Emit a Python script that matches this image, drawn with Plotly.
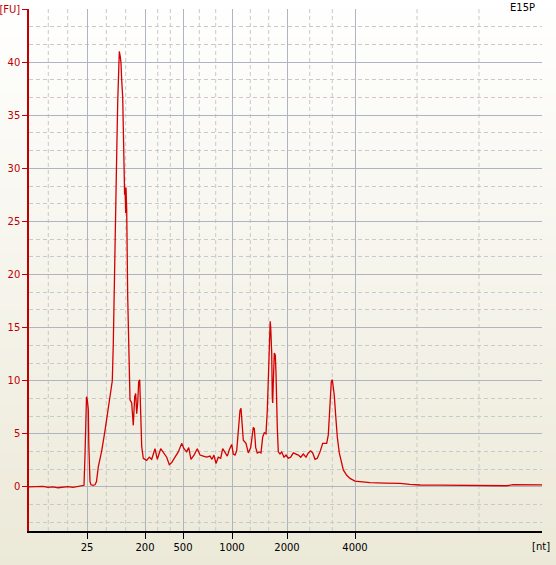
import plotly.graph_objects as go

# Migration time (s) and fluorescence (FU)
time_s = [19.00, 19.40, 19.90, 20.40, 20.90, 21.40, 21.90, 22.40, 22.90, 23.40, 23.90, 24.30, 24.50,
          24.60, 24.68, 24.75, 24.83, 24.93, 24.98, 25.03, 25.10, 25.20, 25.40, 25.60, 25.75, 25.93,
          26.27, 26.60, 26.83, 27.10, 27.33, 27.43, 27.53, 27.67, 27.77, 27.87, 27.97, 28.03, 28.13,
          28.20, 28.27, 28.37, 28.43, 28.50, 28.56, 28.60, 28.67, 28.70, 28.77, 28.87, 29.00, 29.10,
          29.27, 29.37, 29.43, 29.57, 29.67, 29.77, 29.87, 29.97, 30.07, 30.17, 30.27, 30.43, 30.77,
          31.03, 31.27, 31.60, 31.83, 32.17, 32.50, 32.77, 33.03, 33.27, 33.60, 33.93, 34.27, 34.50,
          34.77, 34.97, 35.20, 35.50, 35.83, 36.10, 36.43, 36.77, 37.10, 37.30, 37.50, 37.70, 37.93,
          38.17, 38.37, 38.63, 38.83, 39.03, 39.27, 39.43, 39.60, 39.77, 39.93, 40.10, 40.20, 40.33,
          40.43, 40.70, 40.93, 41.17, 41.33, 41.43, 41.53, 41.67, 41.83, 42.03, 42.20, 42.37, 42.53,
          42.70, 42.83, 42.97, 43.07, 43.12, 43.17, 43.27, 43.33, 43.37, 43.43, 43.53, 43.63, 43.70,
          43.83, 43.93, 44.10, 44.27, 44.50, 44.70, 44.93, 45.17, 45.43, 45.70, 45.93, 46.17, 46.43,
          46.70, 46.93, 47.17, 47.37, 47.60, 47.83, 48.10, 48.37, 48.60, 48.77, 48.93, 49.10, 49.23,
          49.33, 49.43, 49.53, 49.67, 49.83, 50.03, 50.27, 50.43, 50.77, 51.10, 51.60, 52.30, 53.10,
          54.60, 56.10, 57.10, 58.10, 60.10, 63.40, 65.10, 66.80, 67.40, 68.60, 70.10, 70.30]
fu = [0.00, 0.02, 0.00, 0.05, -0.05, 0.00, -0.08, 0.00, 0.03, -0.05, 0.05, 0.10, 0.15,
      3.0, 7.5, 8.5, 8.2, 7.3, 4.0, 1.5, 0.5, 0.2, 0.15, 0.2, 0.5, 1.9,
      3.4, 5.3, 6.9, 8.6, 10.0, 13.5, 17.9, 25.7, 31.3, 36.2, 39.9, 41.0, 40.5,
      39.9, 38.3, 36.7, 33.9, 28.3, 27.5, 28.2, 25.8, 28.2, 26.1, 17.9, 10.0, 8.2,
      7.9, 6.0, 5.8, 8.5, 8.8, 6.9, 7.9, 9.9, 10.1, 6.9, 3.8, 2.7, 2.5,
      2.8, 2.6, 3.6, 2.6, 3.6, 3.2, 2.8, 2.1, 2.3, 2.8, 3.3, 4.1, 3.6,
      3.3, 3.7, 2.6, 3.0, 3.6, 3.0, 2.9, 2.8, 2.9, 2.6, 3.0, 2.2, 2.8,
      2.7, 3.6, 3.2, 2.9, 3.5, 4.0, 3.1, 3.0, 3.4, 5.0, 7.2, 7.4, 5.8,
      4.4, 4.1, 3.2, 3.7, 5.0, 5.6, 5.5, 3.7, 3.2, 3.3, 3.2, 4.7, 5.1,
      5.0, 7.2, 11.3, 14.8, 15.6, 15.0, 12.6, 8.4, 7.9, 9.8, 12.6, 12.4, 10.7,
      5.6, 3.3, 3.1, 3.3, 2.8, 3.0, 2.7, 2.8, 3.2, 3.1, 3.0, 2.8, 3.1,
      2.8, 3.2, 3.4, 3.2, 2.6, 2.7, 3.3, 4.1, 4.1, 4.1, 4.9, 7.5, 9.9,
      10.1, 9.4, 8.6, 6.7, 4.7, 3.2, 2.2, 1.6, 1.1, 0.8, 0.55, 0.45, 0.4,
      0.35, 0.33, 0.24, 0.18, 0.17, 0.14, 0.15, 0.11, 0.22, 0.2, 0.2, 0.2]

# Size ladder (nt) and its migration-time positions
size_labels = ["25", "200", "500", "1000", "2000", "4000"]
size_times = [24.8, 30.6, 34.4, 39.3, 44.8, 51.6]
minor_times = [20.93, 22.87, 26.73, 28.67, 31.87, 33.13, 36.03, 37.67,
               41.13, 42.97, 47.07, 49.33, 57.8, 64.0]
fu_ticks = [0, 5, 10, 15, 20, 25, 30, 35, 40, 45]
fu_labels = ["0", "5", "10", "15", "20", "25", "30", "35", "40", "[FU]"]
sample_name = "E15P"

X_RANGE = [19, 70.3]
Y_RANGE = [-4.15, 45]

W, H = 556, 565
ML, MR, MT, MB = 29, 14, 9, 34
pw, ph = W - ML - MR, H - MT - MB

FONT = "DejaVu Sans"
RED = "#C00000"
DASH = "4px,3px"

fig = go.Figure()
fig.add_trace(go.Scatter(x=time_s, y=fu, mode="lines",
                         line=dict(color="#D40000", width=1.3),
                         hoverinfo="skip", showlegend=False))

# vertical background gradient (white -> XP beige) over the whole figure
shapes = []
n = 60
c0 = (255, 255, 255)
c1 = (236, 233, 216)
for i in range(n):
    f = (i + 0.5) / n
    col = tuple(round(c0[k] + (c1[k] - c0[k]) * f) for k in range(3))
    ytop = H * i / n
    ybot = H * (i + 1) / n + 0.6
    shapes.append(dict(type="rect", xref="paper", yref="paper", layer="below",
                       x0=-ML / pw, x1=(W - ML) / pw,
                       y0=1 - (ybot - MT) / ph, y1=1 - (ytop - MT) / ph,
                       line=dict(width=0), fillcolor="rgb(%d,%d,%d)" % col))

# dashed minor vertical gridlines at the sub-divisions of the size ladder
for t in minor_times:
    shapes.append(dict(type="line", xref="x", yref="y domain", layer="below",
                       x0=t, x1=t, y0=0, y1=1,
                       line=dict(color="#C9C9C9", width=1, dash=DASH)))

fig.update_layout(
    width=W, height=H,
    margin=dict(l=ML, r=MR, t=MT, b=MB, pad=0, autoexpand=False),
    paper_bgcolor="#ECE9D8",
    plot_bgcolor="rgba(0,0,0,0)",
    font=dict(family=FONT, size=10, color="black"),
    shapes=shapes,
    showlegend=False,
    xaxis=dict(range=X_RANGE, tickmode="array", tickvals=size_times, ticktext=size_labels,
               automargin=False,
               showgrid=True, gridcolor="#AEB5C0", gridwidth=1, zeroline=False,
               showline=True, linecolor="black", linewidth=1.5,
               ticks="outside", ticklen=6, tickcolor="black",
               tickfont=dict(family=FONT, size=10, color="black")),
    yaxis=dict(range=Y_RANGE, tickmode="array", tickvals=fu_ticks, ticktext=fu_labels,
               automargin=False,
               showgrid=True, gridcolor="#AEB5C0", gridwidth=1, zeroline=False,
               showline=True, linecolor=RED, linewidth=1.5,
               ticks="outside", ticklen=5, tickcolor=RED,
               tickfont=dict(family=FONT, size=10, color=RED),
               minor=dict(tickmode="linear", tick0=0, dtick=5 / 3, showgrid=True,
                          gridcolor="#C9C9C9", griddash=DASH, gridwidth=1, ticks="")),
    annotations=[
        dict(text="[nt]", xref="paper", yref="paper", x=(541 - ML) / pw, y=1 - (546 - MT) / ph,
             showarrow=False, xanchor="center", yanchor="middle",
             font=dict(family=FONT, size=10, color="black")),
        dict(text=sample_name, xref="paper", yref="paper", x=(537 - ML) / pw, y=1 - (8 - MT) / ph,
             showarrow=False, xanchor="right", yanchor="middle",
             font=dict(family=FONT, size=10, color="black")),
    ],
)

fig.write_html("out.html",
               config={"displayModeBar": False},
               post_script="document.body.style.margin='0';document.body.style.padding='0';"
                           "document.documentElement.style.overflow='hidden';")
